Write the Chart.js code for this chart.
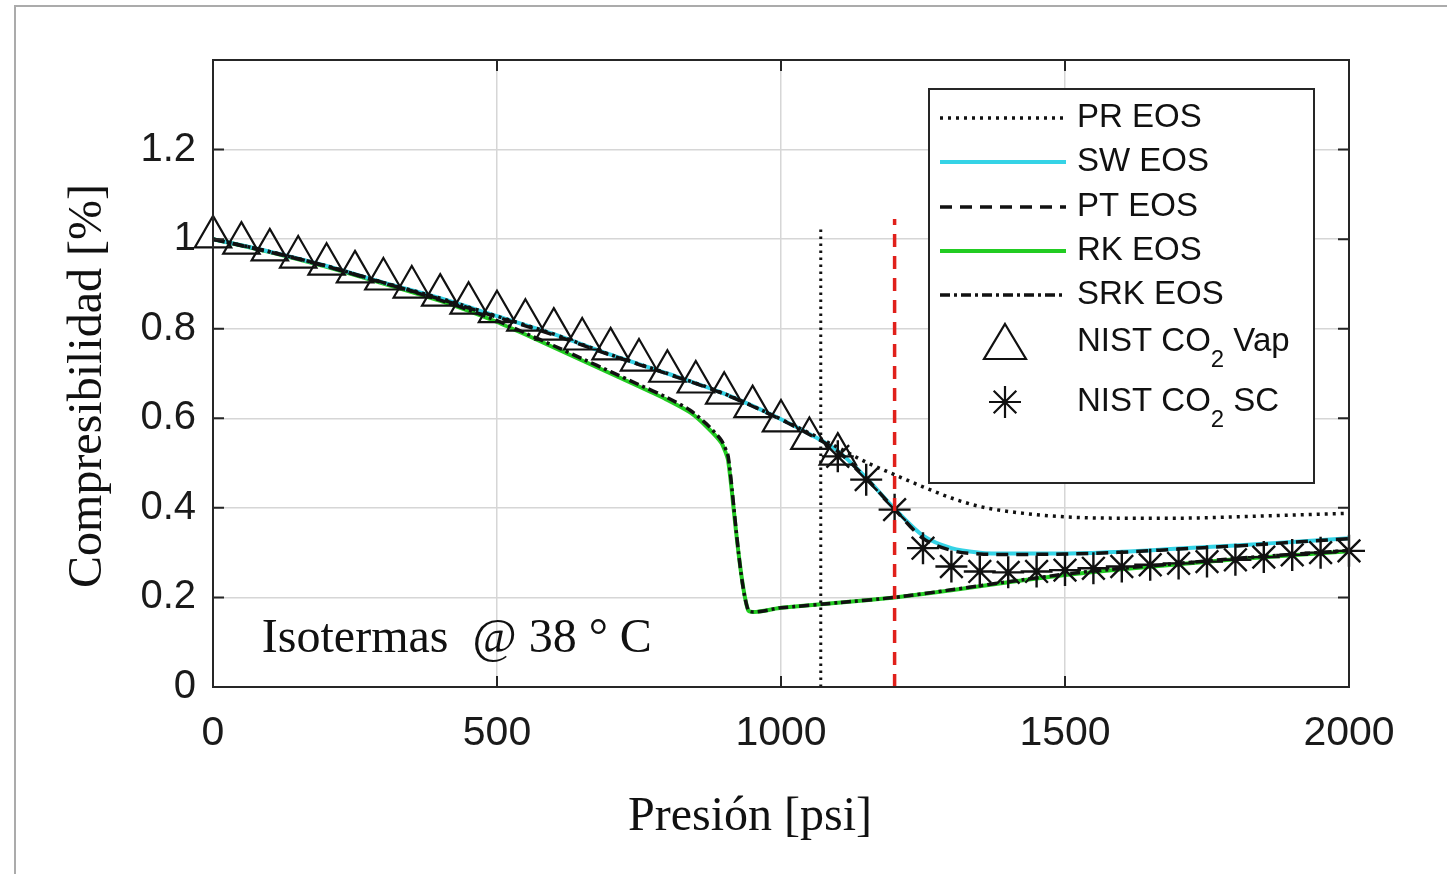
<!DOCTYPE html>
<html lang="es">
<head>
<meta charset="utf-8">
<title>Compresibilidad del CO2 - Isotermas a 38 °C</title>
<script src="https://cdn.jsdelivr.net/npm/chart.js@4.4.1/dist/chart.umd.min.js"></script>
<style>
  html, body { margin: 0; padding: 0; background: #fff; }
  canvas { display: block; }
</style>
</head>
<body>
<canvas id="graficoZ" width="1447" height="874"></canvas>
<script>
// Valores: presion [psi] y compresibilidad
const presionCurvas = [0, 100, 200, 300, 400, 500, 600, 700, 800, 900, 1000, 1050, 1100, 1150, 1200, 1250, 1300, 1350, 1400, 1500, 1600, 1700, 1800, 1900, 2000];
const zPR  = [1.0, 0.972, 0.94, 0.903, 0.868, 0.828, 0.788, 0.742, 0.70, 0.655, 0.598, 0.567, 0.535, 0.502, 0.474, 0.447, 0.422, 0.403, 0.392, 0.38, 0.377, 0.377, 0.38, 0.384, 0.388];
const zSW  = [1.0, 0.972, 0.94, 0.903, 0.868, 0.828, 0.788, 0.742, 0.70, 0.655, 0.598, 0.565, 0.527, 0.467, 0.398, 0.338, 0.31, 0.30, 0.298, 0.298, 0.302, 0.309, 0.316, 0.324, 0.332];
const zPT  = [1.0, 0.971, 0.939, 0.902, 0.866, 0.826, 0.786, 0.741, 0.699, 0.654, 0.597, 0.564, 0.526, 0.466, 0.397, 0.332, 0.305, 0.297, 0.296, 0.297, 0.301, 0.308, 0.315, 0.323, 0.331];

// rama inferior (RK y SRK) con el salto cerca de 910 psi
const presionInferior = [0, 100, 200, 300, 400, 450, 500, 550, 600, 650, 700, 750, 800, 840, 870, 895, 907, 942, 1000, 1100, 1200, 1300, 1400, 1500, 1600, 1700, 1800, 1900, 2000];
const zRK  = [1.0, 0.971, 0.938, 0.901, 0.862, 0.84, 0.815, 0.787, 0.758, 0.729, 0.70, 0.671, 0.641, 0.613, 0.58, 0.545, 0.505, 0.172, 0.177, 0.188, 0.2, 0.216, 0.234, 0.25, 0.263, 0.274, 0.285, 0.294, 0.303];
const zSRK = [1.0, 0.972, 0.94, 0.903, 0.864, 0.842, 0.818, 0.79, 0.762, 0.733, 0.704, 0.675, 0.646, 0.618, 0.586, 0.551, 0.515, 0.172, 0.177, 0.188, 0.2, 0.217, 0.235, 0.252, 0.265, 0.276, 0.287, 0.296, 0.305];

// datos NIST
const presionVap = [0, 50, 100, 150, 200, 250, 300, 350, 400, 450, 500, 550, 600, 650, 700, 750, 800, 850, 900, 950, 1000, 1050, 1100];
const zVap = [1.005, 0.991, 0.976, 0.96, 0.944, 0.927, 0.911, 0.893, 0.875, 0.857, 0.838, 0.819, 0.799, 0.777, 0.755, 0.73, 0.705, 0.681, 0.656, 0.626, 0.594, 0.555, 0.52];
const presionSC = [1100, 1150, 1200, 1250, 1300, 1350, 1400, 1450, 1500, 1550, 1600, 1650, 1700, 1750, 1800, 1850, 1900, 1950, 2000];
const zSC = [0.515, 0.463, 0.396, 0.31, 0.269, 0.258, 0.256, 0.258, 0.261, 0.265, 0.269, 0.273, 0.276, 0.28, 0.284, 0.29, 0.295, 0.3, 0.304];

// lineas verticales de referencia
const verticalNegraX = [1070, 1070];
const verticalNegraY = [0, 1.026];
const verticalRojaX = [1200, 1200];
const verticalRojaY = [0, 1.045];

const ticksX = [0, 500, 1000, 1500, 2000];

function puntos(xs, ys) {
    return xs.map(function (x, i) { return { x: x, y: ys[i] }; });
}

const fuenteSans = "'Liberation Sans', Arial, sans-serif";
const fuenteSerif = "'Liberation Serif', 'Times New Roman', serif";

// marco, caja de ejes, leyenda y textos
const marcoYTextos = {
    id: 'marcoYTextos',
    beforeDraw(chart) {
        const ctx = chart.ctx;
        ctx.save();
        ctx.fillStyle = '#fff';
        ctx.fillRect(0, 0, chart.width, chart.height);
        ctx.strokeStyle = '#ababab';
        ctx.lineWidth = 2;
        ctx.beginPath();
        ctx.moveTo(15, chart.height);
        ctx.lineTo(15, 6);
        ctx.lineTo(chart.width, 6);
        ctx.stroke();
        ctx.restore();
    },
    afterDraw(chart) {
        const ctx = chart.ctx;
        const a = chart.chartArea;
        const x = chart.scales.x, y = chart.scales.y;
        ctx.save();

        // caja
        ctx.strokeStyle = '#262626';
        ctx.lineWidth = 2;
        ctx.setLineDash([]);
        ctx.strokeRect(a.left, a.top, a.right - a.left, a.bottom - a.top);

        // marcas hacia adentro
        ctx.beginPath();
        x.ticks.forEach(function (t) {
            const px = x.getPixelForValue(t.value);
            ctx.moveTo(px, a.bottom); ctx.lineTo(px, a.bottom - 11);
            ctx.moveTo(px, a.top); ctx.lineTo(px, a.top + 11);
        });
        y.ticks.forEach(function (t) {
            const py = y.getPixelForValue(t.value);
            ctx.moveTo(a.left, py); ctx.lineTo(a.left + 11, py);
            ctx.moveTo(a.right, py); ctx.lineTo(a.right - 11, py);
        });
        ctx.stroke();

        // leyenda
        const caja = { x: 929, y: 89, w: 385, h: 394 };
        ctx.fillStyle = '#fff';
        ctx.fillRect(caja.x, caja.y, caja.w, caja.h);
        ctx.strokeStyle = '#262626';
        ctx.lineWidth = 2;
        ctx.strokeRect(caja.x, caja.y, caja.w, caja.h);

        const filas = [118, 162, 207, 251, 295, 342, 402];
        const entradas = chart.data.datasets.filter(function (d) { return d.enLeyenda; });
        entradas.forEach(function (d, i) {
            const fy = filas[i];
            if (d.showLine !== false) {
                ctx.beginPath();
                ctx.setLineDash(d.borderDash || []);
                ctx.strokeStyle = d.borderColor;
                ctx.lineWidth = d.borderWidth;
                ctx.moveTo(940, fy);
                ctx.lineTo(1066, fy);
                ctx.stroke();
            } else if (d.pointStyle === 'triangle') {
                ctx.setLineDash([]);
                ctx.strokeStyle = '#111';
                ctx.lineWidth = 2.2;
                ctx.beginPath();
                ctx.moveTo(1005, fy - 18);
                ctx.lineTo(1026, fy + 17);
                ctx.lineTo(984, fy + 17);
                ctx.closePath();
                ctx.stroke();
            } else {
                ctx.setLineDash([]);
                ctx.strokeStyle = '#111';
                ctx.lineWidth = 2.2;
                ctx.beginPath();
                for (let k = 0; k < 4; k++) {
                    const ang = k * Math.PI / 4;
                    ctx.moveTo(1005 + Math.cos(ang) * 16, fy + Math.sin(ang) * 16);
                    ctx.lineTo(1005 - Math.cos(ang) * 16, fy - Math.sin(ang) * 16);
                }
                ctx.stroke();
            }
            // texto, con subindice en CO2
            ctx.fillStyle = '#111';
            ctx.textBaseline = 'middle';
            ctx.textAlign = 'left';
            ctx.font = '33px ' + fuenteSans;
            const partes = d.label.split('CO2');
            if (partes.length === 2) {
                let tx = 1077;
                ctx.fillText(partes[0] + 'CO', tx, fy);
                tx += ctx.measureText(partes[0] + 'CO').width;
                ctx.font = '24px ' + fuenteSans;
                ctx.fillText('2', tx, fy + 18);
                tx += ctx.measureText('2').width;
                ctx.font = '33px ' + fuenteSans;
                ctx.fillText(partes[1], tx, fy);
            } else {
                ctx.fillText(d.label, 1077, fy);
            }
        });

        // anotacion de la isoterma
        ctx.fillStyle = '#111';
        ctx.textBaseline = 'alphabetic';
        ctx.textAlign = 'left';
        ctx.font = '48px ' + fuenteSerif;
        ctx.fillText('Isotermas  @ 38 \u00B0 C', x.getPixelForValue(86), y.getPixelForValue(0.078));

        // titulos de los ejes
        ctx.textAlign = 'center';
        ctx.fillText('Presi\u00F3n [psi]', 750, 830);
        ctx.translate(101, 386);
        ctx.rotate(-Math.PI / 2);
        ctx.fillText('Compresibilidad [%]', 0, 0);
        ctx.restore();
    }
};

const ctx = document.getElementById('graficoZ').getContext('2d');
const grafico = new Chart(ctx, {
    type: 'line',
    data: {
        datasets: [
            {
                label: 'PR EOS', enLeyenda: true,
                data: puntos(presionCurvas, zPR),
                borderColor: '#111', borderWidth: 3.5, borderDash: [3, 5],
                pointRadius: 0, cubicInterpolationMode: 'monotone', order: 4
            },
            {
                label: 'SW EOS', enLeyenda: true,
                data: puntos(presionCurvas, zSW),
                borderColor: '#35d3e6', borderWidth: 4,
                pointRadius: 0, cubicInterpolationMode: 'monotone', order: 5
            },
            {
                label: 'PT EOS', enLeyenda: true,
                data: puntos(presionCurvas, zPT),
                borderColor: '#111', borderWidth: 3.5, borderDash: [12, 8],
                pointRadius: 0, cubicInterpolationMode: 'monotone', order: 2
            },
            {
                label: 'RK EOS', enLeyenda: true,
                data: puntos(presionInferior, zRK),
                borderColor: '#22cc22', borderWidth: 4,
                pointRadius: 0, tension: 0.2, order: 6
            },
            {
                label: 'SRK EOS', enLeyenda: true,
                data: puntos(presionInferior, zSRK),
                borderColor: '#111', borderWidth: 3.5, borderDash: [10, 4, 3, 4],
                pointRadius: 0, tension: 0.2, order: 3
            },
            {
                label: 'NIST CO2 Vap', enLeyenda: true,
                data: puntos(presionVap, zVap),
                showLine: false, pointStyle: 'triangle', pointRadius: 21,
                pointBorderColor: '#111', pointBackgroundColor: 'rgba(0,0,0,0)', pointBorderWidth: 2.2,
                clip: false, order: 1
            },
            {
                label: 'NIST CO2 SC', enLeyenda: true,
                data: puntos(presionSC, zSC),
                showLine: false, pointStyle: 'star', pointRadius: 16,
                pointBorderColor: '#111', pointBackgroundColor: 'rgba(0,0,0,0)', pointBorderWidth: 2.4,
                clip: false, order: 0
            },
            {
                label: 'linea negra',
                data: puntos(verticalNegraX, verticalNegraY),
                borderColor: '#111', borderWidth: 3, borderDash: [2.5, 4.5],
                pointRadius: 0, order: -1
            },
            {
                label: 'linea roja',
                data: puntos(verticalRojaX, verticalRojaY),
                borderColor: '#e0201b', borderWidth: 3.5, borderDash: [13, 9],
                pointRadius: 0, order: -2
            }
        ]
    },
    options: {
        responsive: false,
        animation: false,
        devicePixelRatio: 1,
        events: [],
        layout: { padding: { top: 60, right: 98, left: 0, bottom: 0 } },
        plugins: {
            legend: { display: false },
            tooltip: { enabled: false }
        },
        scales: {
            x: {
                type: 'linear',
                min: 0, max: 2000,
                afterFit: function (s) { s.height = 874 - 687; },
                afterBuildTicks: function (s) { s.ticks = ticksX.map(function (v) { return { value: v }; }); },
                grid: { color: '#d6d6d6', lineWidth: 1.5, drawTicks: false },
                border: { display: false },
                ticks: {
                    padding: 22,
                    color: '#1a1a1a',
                    font: { family: fuenteSans, size: 41 },
                    callback: function (v) { return String(v); }
                }
            },
            y: {
                min: 0, max: 1.4,
                afterFit: function (s) { s.width = 213; },
                grid: { color: '#d6d6d6', lineWidth: 1.5, drawTicks: false },
                border: { display: false },
                ticks: {
                    stepSize: 0.2,
                    padding: 17,
                    color: '#1a1a1a',
                    font: { family: fuenteSans, size: 40 },
                    callback: function (v) {
                        const r = Math.round(v * 10) / 10;
                        return r >= 1.4 ? '' : String(r);
                    }
                }
            }
        }
    },
    plugins: [marcoYTextos]
});
</script>
</body>
</html>
